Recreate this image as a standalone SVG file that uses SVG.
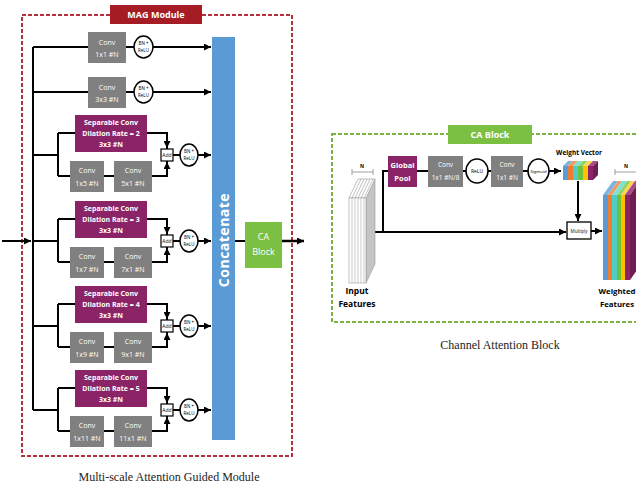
<svg xmlns="http://www.w3.org/2000/svg" width="636" height="485" viewBox="0 0 636 485">
<defs>
<marker id="ar" viewBox="0 0 10 10" refX="10" refY="5" markerWidth="7" markerHeight="7" markerUnits="userSpaceOnUse" orient="auto"><path d="M0,0 L10,5 L0,10 z" fill="#000"/></marker>
<style>
.gray{fill:#808080}
.purp{fill:#8b2467}
.t{font-family:"Open Sans","Liberation Sans",sans-serif;fill:#fff;text-anchor:middle}
.b{font-weight:bold}
.k{font-family:"Open Sans","Liberation Sans",sans-serif;fill:#000;text-anchor:middle}
.ln{stroke:#000;stroke-width:2;fill:none}
.circ{fill:#fff;stroke:#000;stroke-width:1.5}
.cap{font-family:"Liberation Serif","DejaVu Serif",serif;font-size:12px;fill:#222;text-anchor:middle}
</style>
</defs>
<rect width="636" height="485" fill="#fff"/>

<!-- MAG border -->
<rect x="22" y="15" width="270" height="441" fill="none" stroke="#b5303a" stroke-width="2" stroke-dasharray="4 2"/>
<!-- CA border -->
<rect x="332" y="134" width="320" height="188" fill="none" stroke="#7cb342" stroke-width="2" stroke-dasharray="4 2"/>

<g id="connectors" class="ln">
  <path d="M2,241 H31" marker-end="url(#ar)"/>
  <path d="M33,47 V410"/>
  <path d="M33,47 H211" marker-end="url(#ar)"/>
  <path d="M33,92 H211" marker-end="url(#ar)"/>
  <!-- row d=2 T=115 -->
  <path d="M33,155 H58 M58,133 V176 M58,133 H75 M58,176 H70 M104,176 H114 M152,176 H167 V147 M147,133 H167 V148" marker-end="url(#ar)"/>
  <path d="M173,155 H180 M198,155 H211" marker-end="url(#ar)"/>
  <!-- row d=3 T=201 -->
  <path d="M33,241 H58 M58,219 V262 M58,219 H75 M58,262 H70 M104,262 H114 M152,262 H167 V233 M147,219 H167 V234" marker-end="url(#ar)"/>
  <path d="M173,241 H180 M198,241 H211" marker-end="url(#ar)"/>
  <!-- row d=4 T=286 -->
  <path d="M33,326 H58 M58,304 V347 M58,304 H75 M58,347 H70 M104,347 H114 M152,347 H167 V318 M147,304 H167 V319" marker-end="url(#ar)"/>
  <path d="M173,326 H180 M198,326 H211" marker-end="url(#ar)"/>
  <!-- row d=5 T=370 -->
  <path d="M33,410 H58 M58,388 V431 M58,388 H75 M58,431 H70 M104,431 H114 M152,431 H167 V402 M147,388 H167 V403" marker-end="url(#ar)"/>
  <path d="M173,410 H180 M198,410 H211" marker-end="url(#ar)"/>
  <!-- arrows up into add from bottom -->
  <path d="M167,176 V162" marker-end="url(#ar)"/>
  <path d="M167,262 V248" marker-end="url(#ar)"/>
  <path d="M167,347 V333" marker-end="url(#ar)"/>
  <path d="M167,431 V417" marker-end="url(#ar)"/>
  <path d="M235,241 H245"/>
  <path d="M282,241 H304" stroke-width="2.5" marker-end="url(#ar)"/>
  <!-- CA block -->
  <path d="M373,232 H566" marker-end="url(#ar)"/>
  <path d="M383,232 V171 H388"/>
  <path d="M417,171 H428 M463,171 H466 M488,171 H491 M523,171 H528"/>
  <path d="M549,171 H561" marker-end="url(#ar)"/>
  <path d="M578,181 V221" marker-end="url(#ar)"/>
  <path d="M591,231 H602" marker-end="url(#ar)"/>
</g>

<!-- MAG label -->
<g id="mag-label">
  <rect x="110" y="5" width="92" height="19" fill="#a51c24"/>
  <text x="156" y="18" class="t b" font-size="9">MAG Module</text>
</g>

<g id="conv1x1">
  <rect x="88" y="32" width="38" height="31" class="gray"/>
  <text x="107" y="45" class="t" font-size="7">Conv</text>
  <text x="107" y="57" class="t" font-size="7">1x1 #N</text>
</g>
<g id="bn1"><ellipse cx="143.5" cy="47" rx="9.5" ry="11" class="circ"/><text x="143.5" y="45" class="k" font-size="4.5">BN +</text><text x="143.5" y="52" class="k" font-size="4.5">ReLU</text></g>

<g id="conv3x3">
  <rect x="88" y="77" width="38" height="31" class="gray"/>
  <text x="107" y="90" class="t" font-size="7">Conv</text>
  <text x="107" y="102" class="t" font-size="7">3x3 #N</text>
</g>
<g id="bn2"><ellipse cx="143.5" cy="92" rx="9.5" ry="11" class="circ"/><text x="143.5" y="90" class="k" font-size="4.5">BN +</text><text x="143.5" y="97" class="k" font-size="4.5">ReLU</text></g>

<!-- Row d=2 -->
<g id="sep2"><rect x="75" y="115" width="72" height="37" class="purp"/>
  <text x="111" y="125" class="t b" font-size="7">Separable Conv</text>
  <text x="111" y="136" class="t b" font-size="7">Dilation Rate = 2</text>
  <text x="111" y="147" class="t b" font-size="7">3x3 #N</text></g>
<g id="conv1x5"><rect x="70" y="161" width="34" height="31" class="gray"/><text x="87" y="173" class="t" font-size="7">Conv</text><text x="87" y="186" class="t" font-size="7">1x5 #N</text></g>
<g id="conv5x1"><rect x="114" y="161" width="38" height="31" class="gray"/><text x="133" y="173" class="t" font-size="7">Conv</text><text x="133" y="186" class="t" font-size="7">5x1 #N</text></g>
<g id="add2"><rect x="161" y="149" width="12" height="12" fill="#fff" stroke="#000" stroke-width="1.2"/><text x="167" y="157" class="k" font-size="5">Add</text></g>
<g id="bn3"><ellipse cx="189" cy="155" rx="9" ry="11" class="circ"/><text x="189" y="153" class="k" font-size="4.5">BN +</text><text x="189" y="160" class="k" font-size="4.5">ReLU</text></g>

<!-- Row d=3 -->
<g id="sep3"><rect x="75" y="201" width="72" height="37" class="purp"/>
  <text x="111" y="211" class="t b" font-size="7">Separable Conv</text>
  <text x="111" y="222" class="t b" font-size="7">Dilation Rate = 3</text>
  <text x="111" y="233" class="t b" font-size="7">3x3 #N</text></g>
<g id="conv1x7"><rect x="70" y="247" width="34" height="31" class="gray"/><text x="87" y="259" class="t" font-size="7">Conv</text><text x="87" y="272" class="t" font-size="7">1x7 #N</text></g>
<g id="conv7x1"><rect x="114" y="247" width="38" height="31" class="gray"/><text x="133" y="259" class="t" font-size="7">Conv</text><text x="133" y="272" class="t" font-size="7">7x1 #N</text></g>
<g id="add3"><rect x="161" y="235" width="12" height="12" fill="#fff" stroke="#000" stroke-width="1.2"/><text x="167" y="243" class="k" font-size="5">Add</text></g>
<g id="bn4"><ellipse cx="189" cy="241" rx="9" ry="11" class="circ"/><text x="189" y="239" class="k" font-size="4.5">BN +</text><text x="189" y="246" class="k" font-size="4.5">ReLU</text></g>

<!-- Row d=4 -->
<g id="sep4"><rect x="75" y="286" width="72" height="37" class="purp"/>
  <text x="111" y="296" class="t b" font-size="7">Separable Conv</text>
  <text x="111" y="307" class="t b" font-size="7">Dilation Rate = 4</text>
  <text x="111" y="318" class="t b" font-size="7">3x3 #N</text></g>
<g id="conv1x9"><rect x="70" y="332" width="34" height="31" class="gray"/><text x="87" y="344" class="t" font-size="7">Conv</text><text x="87" y="357" class="t" font-size="7">1x9 #N</text></g>
<g id="conv9x1"><rect x="114" y="332" width="38" height="31" class="gray"/><text x="133" y="344" class="t" font-size="7">Conv</text><text x="133" y="357" class="t" font-size="7">9x1 #N</text></g>
<g id="add4"><rect x="161" y="320" width="12" height="12" fill="#fff" stroke="#000" stroke-width="1.2"/><text x="167" y="328" class="k" font-size="5">Add</text></g>
<g id="bn5"><ellipse cx="189" cy="326" rx="9" ry="11" class="circ"/><text x="189" y="324" class="k" font-size="4.5">BN +</text><text x="189" y="331" class="k" font-size="4.5">ReLU</text></g>

<!-- Row d=5 -->
<g id="sep5"><rect x="75" y="370" width="72" height="37" class="purp"/>
  <text x="111" y="380" class="t b" font-size="7">Separable Conv</text>
  <text x="111" y="391" class="t b" font-size="7">Dilation Rate = 5</text>
  <text x="111" y="402" class="t b" font-size="7">3x3 #N</text></g>
<g id="conv1x11"><rect x="70" y="416" width="34" height="31" class="gray"/><text x="87" y="428" class="t" font-size="7">Conv</text><text x="87" y="441" class="t" font-size="7">1x11 #N</text></g>
<g id="conv11x1"><rect x="114" y="416" width="38" height="31" class="gray"/><text x="133" y="428" class="t" font-size="7">Conv</text><text x="133" y="441" class="t" font-size="7">11x1 #N</text></g>
<g id="add5"><rect x="161" y="404" width="12" height="12" fill="#fff" stroke="#000" stroke-width="1.2"/><text x="167" y="412" class="k" font-size="5">Add</text></g>
<g id="bn6"><ellipse cx="189" cy="410" rx="9" ry="11" class="circ"/><text x="189" y="408" class="k" font-size="4.5">BN +</text><text x="189" y="415" class="k" font-size="4.5">ReLU</text></g>

<g id="concat">
  <rect x="212" y="37" width="23" height="403" fill="#5b9bd5"/>
  <text x="0" y="0" class="t b" font-size="14" letter-spacing="0.5" transform="translate(228.5,240) rotate(-90)">Concatenate</text>
</g>

<g id="ca-node">
  <rect x="245" y="222" width="37" height="46" fill="#7cc043"/>
  <text x="263.5" y="240" class="t" font-size="9">CA</text>
  <text x="263.5" y="255" class="t" font-size="9">Block</text>
</g>

<text x="169" y="481" class="cap">Multi-scale Attention Guided Module</text>

<!-- CA Block diagram -->
<g id="ca-label">
  <rect x="448" y="125" width="84" height="19" fill="#7cc043"/>
  <text x="490" y="138" class="t b" font-size="9">CA Block</text>
</g>

<g id="input-features">
  <polygon points="366,198 375,179 375,264 366,283" fill="#c4c4c4" stroke="#999" stroke-width="0.6"/>
  <polygon points="349,198 358,179 375,179 366,198" fill="#fff" stroke="#999" stroke-width="0.6"/>
  <path d="M352,198 L361,179 M355,198 L364,179 M358,198 L367,179 M361,198 L370,179 M364,198 L373,179" stroke="#999" stroke-width="0.6"/>
  <rect x="349" y="198" width="17" height="85" fill="#fff" stroke="#999" stroke-width="0.6"/>
  <path d="M352,198 V283 M355,198 V283 M358,198 V283 M361,198 V283 M364,198 V283" stroke="#aaa" stroke-width="0.6"/>
  <path d="M352,172 H373 M352,169 V175 M373,169 V175" stroke="#888" stroke-width="0.8"/>
  <text x="362" y="168" class="k b" font-size="5">N</text>
  <text x="357" y="294" class="k b" font-size="8.5">Input</text>
  <text x="357" y="307" class="k b" font-size="8.5">Features</text>
</g>

<g id="global-pool"><rect x="388" y="156" width="29" height="31" class="purp"/><text x="402.5" y="168" class="t b" font-size="7.5">Global</text><text x="402.5" y="181" class="t b" font-size="7.5">Pool</text></g>
<g id="conv-n8"><rect x="428" y="156" width="35" height="31" class="gray"/><text x="445.5" y="167" class="t" font-size="6.5">Conv</text><text x="445.5" y="180" class="t" font-size="6.5">1x1 #N/8</text></g>
<g id="relu"><ellipse cx="477" cy="171" rx="11" ry="12" class="circ"/><text x="477" y="173" class="k" font-size="5">ReLU</text></g>
<g id="conv-n"><rect x="491" y="156" width="32" height="31" class="gray"/><text x="507" y="167" class="t" font-size="6.5">Conv</text><text x="507" y="180" class="t" font-size="6.5">1x1 #N</text></g>
<g id="sigmoid"><ellipse cx="538.5" cy="171" rx="10.5" ry="12" class="circ"/><text x="538.5" y="173" class="k" font-size="4.3">Sigmoid</text></g>

<g id="weight-vector">
  <text x="579" y="155" class="k b" font-size="6.5">Weight Vector</text>
  <polygon points="563,166 568,161 573,161 568,166" fill="#7fb3e0"/>
  <polygon points="568,166 573,161 578,161 573,166" fill="#f29a5e"/>
  <polygon points="573,166 578,161 583,161 578,166" fill="#7fe0d6"/>
  <polygon points="578,166 583,161 588,161 583,166" fill="#8fd26a"/>
  <polygon points="583,166 588,161 593,161 588,166" fill="#ffd54f"/>
  <polygon points="588,166 593,161 598,161 593,166" fill="#a84a86"/>
  <rect x="563" y="166" width="5" height="14" fill="#5b9bd5"/>
  <rect x="568" y="166" width="5" height="14" fill="#ed7d31"/>
  <rect x="573" y="166" width="5" height="14" fill="#4ecdc4"/>
  <rect x="578" y="166" width="5" height="14" fill="#70c040"/>
  <rect x="583" y="166" width="5" height="14" fill="#ffc000"/>
  <rect x="588" y="166" width="5" height="14" fill="#8b2467"/>
  <polygon points="593,166 598,161 598,175 593,180" fill="#6e1c52"/>
</g>

<g id="multiply"><rect x="567" y="222" width="24" height="17" fill="#fff" stroke="#000" stroke-width="1.3"/><text x="579" y="232.5" class="k" font-size="4.5">Multiply</text></g>

<g id="weighted-features">
  <polygon points="603,195 613,181 618,181 608,195" fill="#7fb3e0"/>
  <polygon points="608,195 618,181 622,181 612,195" fill="#f29a5e"/>
  <polygon points="612,195 622,181 627,181 617,195" fill="#7fe0d6"/>
  <polygon points="617,195 627,181 631,181 621,195" fill="#8fd26a"/>
  <polygon points="621,195 631,181 635,181 625,195" fill="#ffd54f"/>
  <polygon points="625,195 635,181 640,181 630,195" fill="#a84a86"/>
  <rect x="603" y="195" width="5" height="85" fill="#5b9bd5"/>
  <rect x="608" y="195" width="4" height="85" fill="#ed7d31"/>
  <rect x="612" y="195" width="5" height="85" fill="#4ecdc4"/>
  <rect x="617" y="195" width="4" height="85" fill="#70c040"/>
  <rect x="621" y="195" width="4" height="85" fill="#ffc000"/>
  <rect x="625" y="195" width="5" height="85" fill="#8b2467"/>
  <polygon points="630,195 640,181 640,266 630,280" fill="#6e1c52"/>
  <path d="M615,172 H636 M615,169 V175" stroke="#888" stroke-width="0.8"/>
  <text x="626" y="168" class="k b" font-size="5">N</text>
  <text x="617" y="294" class="k b" font-size="7.8">Weighted</text>
  <text x="617" y="307" class="k b" font-size="7.8">Features</text>
</g>

<text x="500" y="349" class="cap">Channel Attention Block</text>
</svg>
